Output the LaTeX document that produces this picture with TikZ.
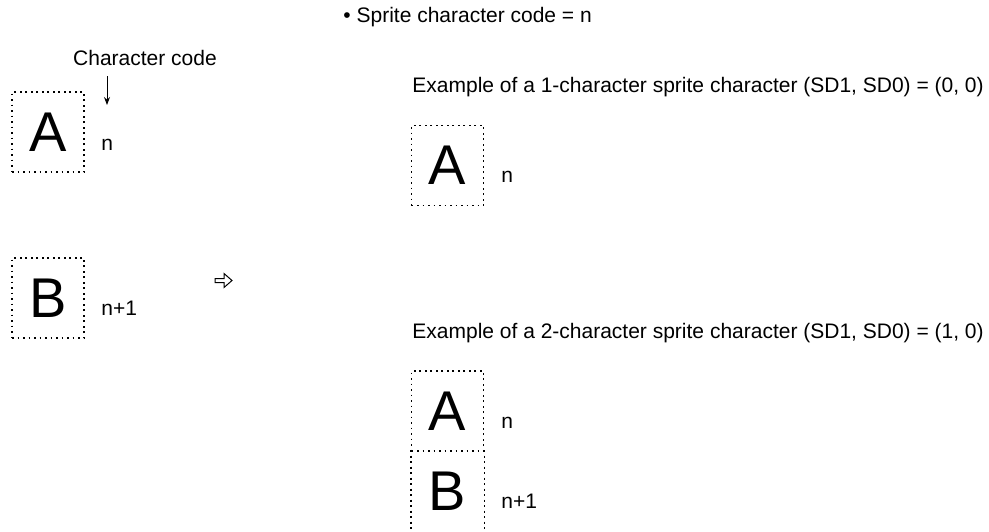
\documentclass[tikz,border=0pt]{standalone}
\usepackage{fontspec}
\setmainfont{Liberation Sans}
\usetikzlibrary{arrows.meta}
\begin{document}
\begin{tikzpicture}[x=0.5pt,y=-0.5pt,
  every node/.style={font=\fontsize{10.5pt}{12pt}\selectfont},
  dotline/.style={dash pattern=on 0.9pt off 1.85pt, line width=0.8pt},
  charbox/.style={draw, dotline, minimum width=36pt, minimum height=40pt, inner sep=0pt, font=\fontsize{28pt}{30pt}\selectfont},
  lbl/.style={anchor=base west, inner sep=0pt},
  txt/.style={anchor=west, inner sep=0pt}]
\useasboundingbox (0,0) rectangle (989,531);
% title
\node[txt] (title) at (343,17) {\textbullet\ Sprite character code = n};
% left column
\node[anchor=center, inner sep=0pt] (cc) at (145,58) {Character code};
\coordinate (ccarrow) at (107,76);
\coordinate (ccend) at (107,105);
\node[charbox] (la) at (48,132) {A};
\node[lbl] (ln) at (101,150) {n};
\draw[-{Stealth[length=4pt,width=3pt]}, line width=0.5pt] (ccarrow) -- (ccend);
\node[charbox] (lb) at (48,298) {B};
\node[lbl] (lnp) at (101,315) {n+1};
% hollow arrow
\draw[line width=0.5pt, line join=miter] (215,278.5) -- (224,278.5) -- (224,273.5) -- (232,280.5) -- (224,287.5) -- (224,282.5) -- (215,282.5) -- cycle;
% right: example 1
\node[lbl] (ex1) at (412,92.5) {Example of a 1-character sprite character (SD1, SD0) = (0, 0)};
\node[charbox] (ra) at (447.5,165.5) {A};
\node[lbl] (rn) at (501,182) {n};
% right: example 2
\node[lbl] (ex2) at (412,338.5) {Example of a 2-character sprite character (SD1, SD0) = (1, 0)};
\node[charbox] (sa) at (447.5,411) {A};
\node[lbl] (sn) at (501,428) {n};
\node[charbox, draw=none] (sb) at (447.5,491) {B};
\draw[dotline] (sb.north west) -- (sb.south west) (sb.north east) -- (sb.south east);
\node[lbl] (snp) at (501,508) {n+1};
\end{tikzpicture}
\end{document}
